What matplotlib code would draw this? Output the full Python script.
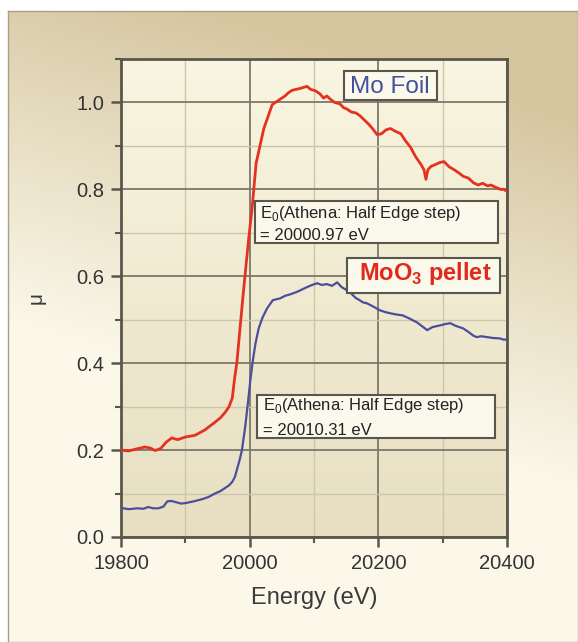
import numpy as np
import matplotlib
matplotlib.use('Agg')
import matplotlib.pyplot as plt
from matplotlib.patches import Rectangle
from matplotlib.ticker import MultipleLocator, FormatStrFormatter

plt.rcParams['font.family'] = ['Liberation Sans', 'DejaVu Sans']
plt.rcParams['mathtext.fontset'] = 'custom'
plt.rcParams['mathtext.rm'] = 'Liberation Sans'
plt.rcParams['mathtext.bf'] = 'Liberation Sans:bold'

# Mo foil (red) - energy (eV) and mu
foil_e = [19800, 19812, 19825, 19837, 19845, 19853, 19862, 19870, 19879, 19888,
          19900, 19915, 19930, 19946, 19955, 19962, 19968, 19973, 19977, 19980,
          19985, 19990, 19994, 19998, 20004, 20010, 20016, 20022, 20028, 20035,
          20042, 20050, 20055, 20060, 20066, 20072, 20080, 20089, 20095, 20102,
          20109, 20115, 20120, 20125, 20132, 20140, 20146, 20151, 20158, 20165,
          20171, 20178, 20185, 20192, 20198, 20205, 20212, 20219, 20226, 20235,
          20242, 20250, 20258, 20266, 20271, 20274, 20277, 20282, 20290, 20296,
          20302, 20310, 20318, 20325, 20332, 20340, 20348, 20355, 20362, 20370,
          20375, 20382, 20390, 20395, 20400]
foil_mu = [0.200, 0.198, 0.203, 0.207, 0.205, 0.199, 0.204, 0.218, 0.228, 0.224,
           0.230, 0.234, 0.246, 0.264, 0.275, 0.287, 0.300, 0.320, 0.370, 0.400,
           0.480, 0.560, 0.620, 0.680, 0.760, 0.860, 0.900, 0.940, 0.965, 0.995,
           1.002, 1.010, 1.015, 1.022, 1.028, 1.030, 1.033, 1.037, 1.030, 1.027,
           1.020, 1.010, 1.015, 1.008, 1.000, 0.997, 0.988, 0.985, 0.978, 0.976,
           0.970, 0.960, 0.950, 0.938, 0.926, 0.928, 0.937, 0.940, 0.934, 0.928,
           0.912, 0.897, 0.875, 0.858, 0.845, 0.823, 0.845, 0.853, 0.858, 0.862,
           0.864, 0.852, 0.845, 0.838, 0.830, 0.826, 0.815, 0.810, 0.814, 0.808,
           0.810, 0.805, 0.800, 0.800, 0.795]

# MoO3 pellet (blue)
pellet_e = [19800, 19812, 19825, 19835, 19842, 19850, 19858, 19866, 19872, 19878,
            19886, 19893, 19900, 19913, 19926, 19936, 19946, 19955, 19962, 19968,
            19973, 19977, 19980, 19984, 19988, 19993, 19997, 20001, 20005, 20009,
            20014, 20020, 20027, 20036, 20047, 20055, 20062, 20068, 20075, 20082,
            20089, 20097, 20105, 20112, 20120, 20128, 20136, 20143, 20151, 20158,
            20165, 20171, 20176, 20182, 20190, 20202, 20210, 20218, 20228, 20238,
            20248, 20260, 20268, 20276, 20284, 20290, 20296, 20304, 20312, 20320,
            20326, 20332, 20340, 20348, 20353, 20360, 20369, 20378, 20389, 20395,
            20400]
pellet_mu = [0.067, 0.064, 0.066, 0.065, 0.069, 0.066, 0.066, 0.070, 0.082, 0.083,
             0.080, 0.077, 0.078, 0.082, 0.087, 0.092, 0.100, 0.106, 0.113, 0.119,
             0.127, 0.138, 0.154, 0.175, 0.200, 0.253, 0.305, 0.360, 0.407, 0.445,
             0.480, 0.505, 0.526, 0.545, 0.549, 0.555, 0.558, 0.561, 0.565, 0.570,
             0.575, 0.580, 0.584, 0.580, 0.582, 0.578, 0.586, 0.575, 0.568, 0.560,
             0.550, 0.545, 0.540, 0.538, 0.532, 0.522, 0.518, 0.515, 0.512, 0.510,
             0.503, 0.494, 0.485, 0.476, 0.483, 0.485, 0.487, 0.490, 0.492, 0.486,
             0.483, 0.480, 0.472, 0.463, 0.460, 0.462, 0.460, 0.458, 0.457, 0.454,
             0.455]

x_ticks = [19800, 20000, 20200, 20400]

fig = plt.figure(figsize=(5.78, 6.42), dpi=100)
fig.patch.set_facecolor('white')

# page background with tan -> cream gradient
bg = fig.add_axes([8 / 578, 0, 1 - 8 / 578, 1 - 11 / 642], zorder=-2)
yy, xx = np.mgrid[0:1:200j, 0:1:200j]
w = np.clip(0.85 - yy * 1.7 + 0.45 * xx, 0, 1)[..., None]
tan = np.array([0.84, 0.78, 0.63])
cream = np.array([0.985, 0.975, 0.92])
bg.imshow(cream * (1 - w) + tan * w, extent=[0, 1, 0, 1], aspect='auto')
bg.set_xticks([])
bg.set_yticks([])
for s in bg.spines.values():
    s.set_color('#a89f88')
    s.set_linewidth(1.0)

ax = fig.add_axes([121 / 578, 1 - 537 / 642, 386 / 578, 478 / 642])
g = np.linspace(0, 1, 100)[:, None, None]
top_c = np.array([0.975, 0.962, 0.88])
bot_c = np.array([0.91, 0.875, 0.76])
ax.imshow(top_c * (1 - g) + bot_c * g, extent=[0, 1, 0, 1],
          transform=ax.transAxes, aspect='auto', zorder=0)

ax.plot(foil_e, foil_mu, color='#e5321f', lw=2.0, zorder=3)
ax.plot(pellet_e, pellet_mu, color='#4a4e9c', lw=1.6, zorder=3)

ax.set_xlim(19800, 20400)
ax.set_ylim(0, 1.1)
ax.set_xticks(x_ticks)
ax.xaxis.set_minor_locator(MultipleLocator(100))
ax.yaxis.set_major_locator(MultipleLocator(0.2))
ax.yaxis.set_minor_locator(MultipleLocator(0.1))
ax.yaxis.set_major_formatter(FormatStrFormatter('%.1f'))
ax.set_axisbelow(True)
ax.grid(which='major', color='#7d776a', lw=1.3)
ax.grid(which='minor', color='#cdc6ad', lw=1.0)
for s in ax.spines.values():
    s.set_color('#5a564c')
    s.set_linewidth(2.0)
ax.tick_params(which='major', length=7, width=1.8, color='#5a564c',
               labelsize=14.5, labelcolor='#333333', pad=5)
ax.tick_params(which='minor', length=4, width=1.5, color='#5a564c')

ax.set_xlabel('Energy (eV)', fontsize=17, color='#3a3a3a', labelpad=10)
ax.set_ylabel('μ', fontsize=15, color='#3a3a3a', labelpad=22)

box_kw = dict(transform=ax.transAxes, facecolor='#fbf9ec', edgecolor='#5a564c',
              lw=1.5, zorder=4)
ax.add_patch(Rectangle((0.347, 0.615), 0.630, 0.088, **box_kw))
ax.add_patch(Rectangle((0.352, 0.207), 0.617, 0.090, **box_kw))
ax.add_patch(Rectangle((0.578, 0.914), 0.241, 0.061, **box_kw))
ax.add_patch(Rectangle((0.585, 0.510), 0.397, 0.074, **box_kw))

txt_kw = dict(transform=ax.transAxes, fontsize=12, color='#222222', zorder=5,
              va='baseline', ha='left')
ax.text(0.360, 0.667, r'E$_\mathrm{0}$(Athena: Half Edge step)', **txt_kw)
ax.text(0.360, 0.621, '= 20000.97 eV', **txt_kw)
ax.text(0.368, 0.266, r'E$_\mathrm{0}$(Athena: Half Edge step)', **txt_kw)
ax.text(0.368, 0.213, '= 20010.31 eV', **txt_kw)

ax.text(0.697, 0.928, 'Mo Foil', transform=ax.transAxes, fontsize=17.5,
        color='#45509e', ha='center', va='baseline', zorder=5)
ax.text(0.788, 0.538, r'MoO$_\mathbf{3}$ pellet', transform=ax.transAxes,
        fontsize=17, fontweight='bold', color='#e02a1c', ha='center',
        va='baseline', zorder=5)

fig.savefig('out.png', dpi=100)
